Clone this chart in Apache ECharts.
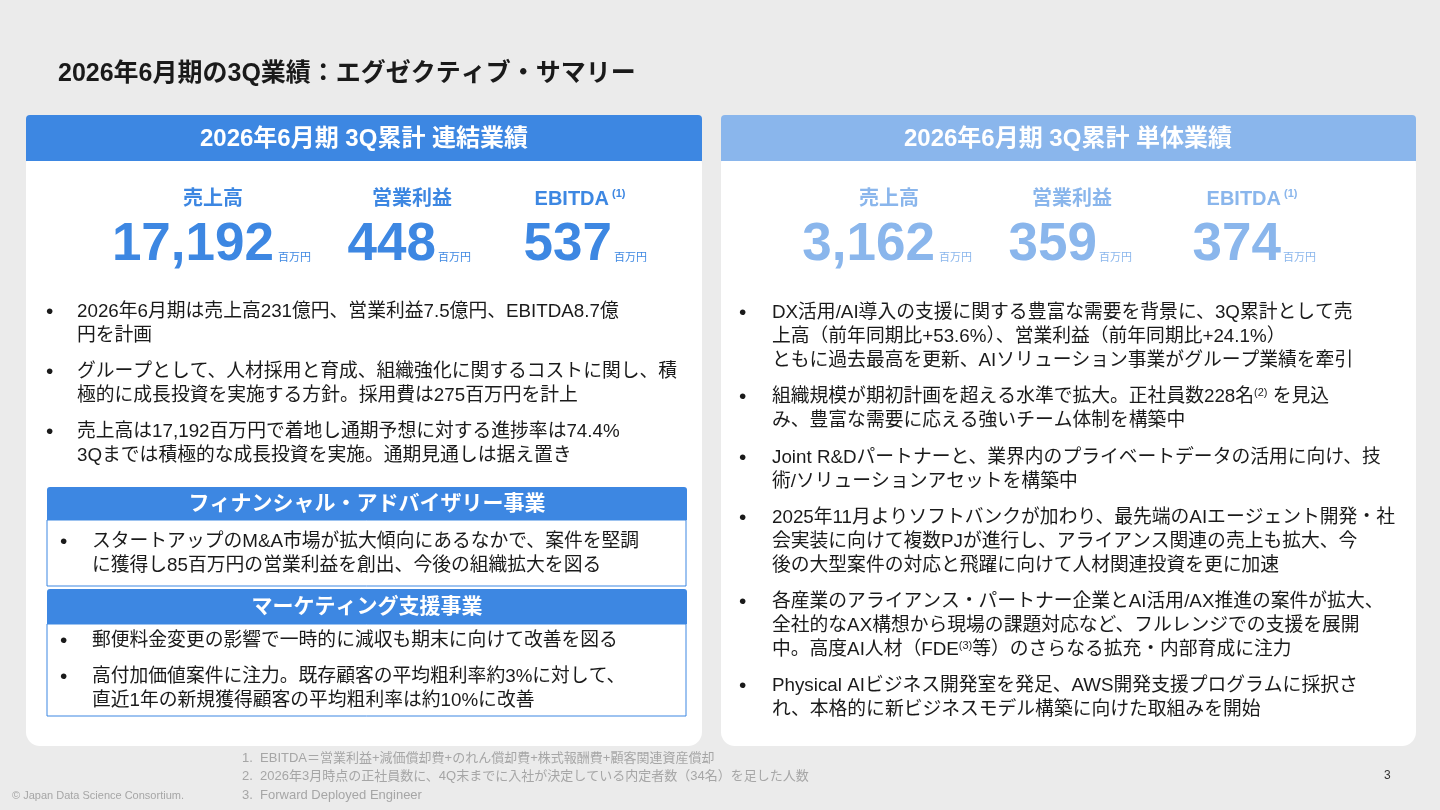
<!DOCTYPE html>
<html><head><meta charset="utf-8">
<script src="https://cdn.jsdelivr.net/npm/echarts@6/dist/echarts.min.js"></script>
<style>html,body{margin:0;padding:0;background:#ebebeb}#main{width:1440px;height:810px}</style>
</head><body><div id="main"></div>
<script>
var FONT = '"Liberation Sans", "Noto Sans CJK JP", sans-serif';
var pageTitle = '2026年6月期の3Q業績：エグゼクティブ・サマリー';
var panelTitles = ['2026年6月期 3Q累計 連結業績', '2026年6月期 3Q累計 単体業績'];
var kpiLabels = ['売上高', '営業利益', 'EBITDA{s|(1)}'];
var kpiConsolidated = ['17,192', '448', '537'];
var kpiStandalone = ['3,162', '359', '374'];
var kpiUnit = '百万円';
var leftBullets = [
  ['2026年6月期は売上高231億円、営業利益7.5億円、EBITDA8.7億', '円を計画'],
  ['グループとして、人材採用と育成、組織強化に関するコストに関し、積', '極的に成長投資を実施する方針。採用費は275百万円を計上'],
  ['売上高は17,192百万円で着地し通期予想に対する進捗率は74.4%', '3Qまでは積極的な成長投資を実施。通期見通しは据え置き']
];
var segTitles = ['フィナンシャル・アドバイザリー事業', 'マーケティング支援事業'];
var segBullets = [
  [['スタートアップのM&A市場が拡大傾向にあるなかで、案件を堅調', 'に獲得し85百万円の営業利益を創出、今後の組織拡大を図る']],
  [['郵便料金変更の影響で一時的に減収も期末に向けて改善を図る'],
   ['高付加価値案件に注力。既存顧客の平均粗利率約3%に対して、', '直近1年の新規獲得顧客の平均粗利率は約10%に改善']]
];
var rightBullets = [
  ['DX活用/AI導入の支援に関する豊富な需要を背景に、3Q累計として売', '上高（前年同期比+53.6%）、営業利益（前年同期比+24.1%）', 'ともに過去最高を更新、AIソリューション事業がグループ業績を牽引'],
  ['組織規模が期初計画を超える水準で拡大。正社員数228名{s|(2)} を見込', 'み、豊富な需要に応える強いチーム体制を構築中'],
  ['Joint R&Dパートナーと、業界内のプライベートデータの活用に向け、技', '術/ソリューションアセットを構築中'],
  ['2025年11月よりソフトバンクが加わり、最先端のAIエージェント開発・社', '会実装に向けて複数PJが進行し、アライアンス関連の売上も拡大、今', '後の大型案件の対応と飛躍に向けて人材関連投資を更に加速'],
  ['各産業のアライアンス・パートナー企業とAI活用/AX推進の案件が拡大、', '全社的なAX構想から現場の課題対応など、フルレンジでの支援を展開', '中。高度AI人材（FDE{s|(3)}等）のさらなる拡充・内部育成に注力'],
  ['Physical AIビジネス開発室を発足、AWS開発支援プログラムに採択さ', 'れ、本格的に新ビジネスモデル構築に向けた取組みを開始']
];
var footnotes = [
  '1.  EBITDA＝営業利益+減価償却費+のれん償却費+株式報酬費+顧客関連資産償却',
  '2.  2026年3月時点の正社員数に、4Q末までに入社が決定している内定者数（34名）を足した人数',
  '3.  Forward Deployed Engineer'
];

var BLUE = '#3d87e2', LIGHT = '#8ab6ec';
var g = [];
function sup(col) { return {s: {fontSize: 11, fontWeight: 'bold', verticalAlign: 'top', fill: col, fontFamily: FONT, padding: [0, 0, 10, 3]}}; }
function txt(x, y, s, o) {
  o = o || {};
  g.push({type: 'text', x: x, y: y, style: {text: s, fill: o.fill || '#1a1a1a', font: (o.weight || 'normal') + ' ' + (o.size || 18) + 'px ' + FONT,
    align: o.align || 'left', verticalAlign: 'middle', rich: o.rich}});
}
function rect(x, y, w, h, o) {
  g.push({type: 'rect', shape: {x: x, y: y, width: w, height: h, r: o.r || 0}, style: {fill: o.fill || 'none', stroke: o.stroke, lineWidth: o.lw || 1}});
}
var supRich = {s: {fontSize: 11, verticalAlign: 'top', fill: '#1a1a1a', fontFamily: FONT, padding: [0, 0, 8, 0]}};

txt(58, 74, pageTitle, {size: 25, weight: 'bold'});
rect(26, 150, 676, 596, {fill: '#fff', r: 14});
rect(721, 150, 695, 596, {fill: '#fff', r: 14});
rect(26, 115, 676, 46, {fill: BLUE, r: [4, 4, 0, 0]});
rect(721, 115, 695, 46, {fill: LIGHT, r: [4, 4, 0, 0]});
txt(364, 139, panelTitles[0], {size: 24, weight: 'bold', fill: '#fff', align: 'center'});
txt(1068, 139, panelTitles[1], {size: 24, weight: 'bold', fill: '#fff', align: 'center'});

function kpis(vals, labelX, valX, unitX, col) {
  for (var i = 0; i < 3; i++) {
    txt(labelX[i], 199, kpiLabels[i], {size: 20, weight: 'bold', fill: col, align: 'center', rich: sup(col)});
    txt(valX[i], 245, vals[i], {size: 53, weight: 'bold', fill: col, align: 'right'});
    txt(unitX[i], 258, kpiUnit, {size: 11, fill: col});
  }
}
kpis(kpiConsolidated, [213, 412, 580], [274, 436, 612], [278, 438, 614], BLUE);
kpis(kpiStandalone, [889, 1072, 1252], [935, 1097, 1281], [939, 1099, 1283], LIGHT);

function bullets(list, bx, tx, ys, step) {
  list.forEach(function (b, i) {
    txt(bx, ys[i], '•', {size: 21});
    b.forEach(function (line, j) { txt(tx, ys[i] + j * step, line, {size: 18.8, rich: supRich}); });
  });
}
bullets(leftBullets, 46, 77, [312, 372, 432], 24);
rect(47, 487, 640, 33, {fill: BLUE, r: [3, 3, 0, 0]});
txt(367, 504, segTitles[0], {size: 21, weight: 'bold', fill: '#fff', align: 'center'});
rect(47, 520, 639, 66, {stroke: BLUE, lw: 1});
bullets(segBullets[0], 60, 92, [542], 24);
rect(47, 589, 640, 35, {fill: BLUE, r: [3, 3, 0, 0]});
txt(367, 607, segTitles[1], {size: 21, weight: 'bold', fill: '#fff', align: 'center'});
rect(47, 624, 639, 92, {stroke: BLUE, lw: 1});
bullets(segBullets[1], 60, 92, [641, 677], 24);

bullets(rightBullets, 739, 772, [313, 397, 458, 518, 602, 686], 24);

footnotes.forEach(function (f, i) { txt(242, 758 + i * 18.5, f, {size: 13, fill: '#a6a6a6'}); });
txt(12, 796, '© Japan Data Science Consortium.', {size: 11, fill: '#a6a6a6'});
txt(1384, 776, '3', {size: 12, fill: '#333'});

var chart = echarts.init(document.getElementById('main'));
chart.setOption({backgroundColor: '#ebebeb', animation: false, graphic: {elements: g}});
</script></body></html>
